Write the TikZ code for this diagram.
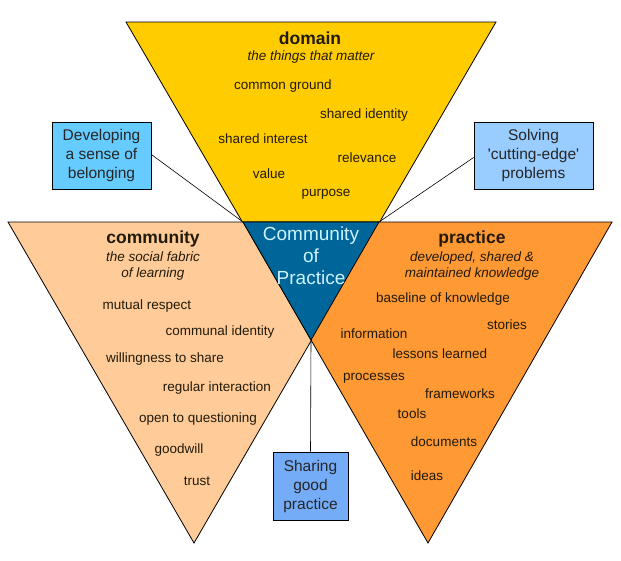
\documentclass[tikz,border=0pt]{standalone}
\usepackage{fontspec}
\setmainfont{Liberation Sans}
\definecolor{dyellow}{RGB}{255,204,0}
\definecolor{cpeach}{RGB}{255,204,153}
\definecolor{porange}{RGB}{255,153,51}
\definecolor{copblue}{RGB}{0,102,153}
\definecolor{copText}{RGB}{204,242,255}
\definecolor{boxA}{RGB}{102,204,255}
\definecolor{boxB}{RGB}{153,204,255}
\definecolor{boxC}{RGB}{116,172,248}
\definecolor{itemText}{RGB}{34,26,10}
\begin{document}
\begin{tikzpicture}[x=1pt,y=-1pt,
  tri/.style={draw=black,line width=0.8pt,line join=miter},
  title/.style={font=\fontsize{17.5}{20}\selectfont\bfseries,text=itemText,inner sep=0pt},
  sub/.style={font=\fontsize{13.5}{16}\selectfont\itshape,text=itemText,align=center,inner sep=0pt},
  item/.style={font=\fontsize{13.5}{16}\selectfont,text=itemText,inner sep=0pt},
  callout/.style={draw=black,line width=0.8pt,font=\fontsize{15.5}{19}\selectfont,align=center,inner sep=0pt,text=black!85},
  link/.style={draw=black,line width=0.6pt}]
\useasboundingbox (0,0) rectangle (621,560);
\fill[white] (0,0) rectangle (621,560);
% corner coordinates
\coordinate (yA) at (126,22);
\coordinate (yB) at (496,22);
\coordinate (apex) at (311,340);
\coordinate (lA) at (8,222);
\coordinate (lB) at (380,222);
\coordinate (lC) at (194,543);
\coordinate (rA) at (243,222);
\coordinate (rB) at (612,222);
\coordinate (rC) at (428,543);
\coordinate (bL) at (243,222);
\coordinate (bR) at (379,222);
% callout boxes
\node[callout,fill=boxA,minimum width=99pt,minimum height=67pt] (belong) at (101.5,155.5) {Developing\\a sense of\\belonging};
\node[callout,fill=boxB,minimum width=119pt,minimum height=67pt] (solve) at (533.5,155.5) {Solving\\\textquotesingle cutting-edge\textquotesingle\\problems};
\node[callout,fill=boxC,minimum width=75pt,minimum height=68pt] (share) at (310.5,486) {Sharing\\good\\practice};
% connectors
\draw[link] (belong.east) ++(0,-1) -- (bL);
\draw[link] (solve.west) ++(0,2) -- (bR);
\draw[link] (apex) -- (share.north);
% triangles
\draw[tri,fill=dyellow] (yA) -- (yB) -- (apex) -- cycle;
\draw[tri,fill=cpeach] (lA) -- (lB) -- (lC) -- cycle;
\draw[tri,fill=porange] (rA) -- (rB) -- (rC) -- cycle;
\draw[tri,fill=copblue] (bL) -- (bR) -- (apex) -- cycle;
% centre text
\node[font=\fontsize{19}{22}\selectfont,text=copText,align=center,inner sep=0pt] (cop) at (311,256) {Community\\of\\Practice};
% domain
\node[title] (domT) at (310,38) {domain};
\node[sub] (domS) at (311,57) {the things that matter};
\node[item] (d1) at (283,86) {common ground};
\node[item] (d2) at (364,115) {shared identity};
\node[item] (d3) at (263,139) {shared interest};
\node[item] (d4) at (367,158) {relevance};
\node[item] (d5) at (269,174) {value};
\node[item] (d6) at (326,194) {purpose};
% community
\node[title] (comT) at (153,239) {community};
\node[sub] (comS) at (153,266) {the social fabric\\of learning};
\node[item] (c1) at (147,306) {mutual respect};
\node[item] (c2) at (220,332) {communal identity};
\node[item] (c3) at (165,359) {willingness to share};
\node[item] (c4) at (217,388) {regular interaction};
\node[item] (c5) at (198,419) {open to questioning};
\node[item] (c6) at (179,450) {goodwill};
\node[item] (c7) at (197,481) {trust};
% practice
\node[title] (praT) at (472,239) {practice};
\node[sub] (praS) at (472,266) {developed, shared \&\\maintained knowledge};
\node[item] (p1) at (443,299) {baseline of knowledge};
\node[item] (p2) at (507,325) {stories};
\node[item] (p3) at (374,334) {information};
\node[item] (p4) at (440,354) {lessons learned};
\node[item] (p5) at (374,378) {processes};
\node[item] (p6) at (460,394) {frameworks};
\node[item] (p7) at (412,414) {tools};
\node[item] (p8) at (444,442) {documents};
\node[item] (p9) at (427,476) {ideas};
\end{tikzpicture}
\end{document}
